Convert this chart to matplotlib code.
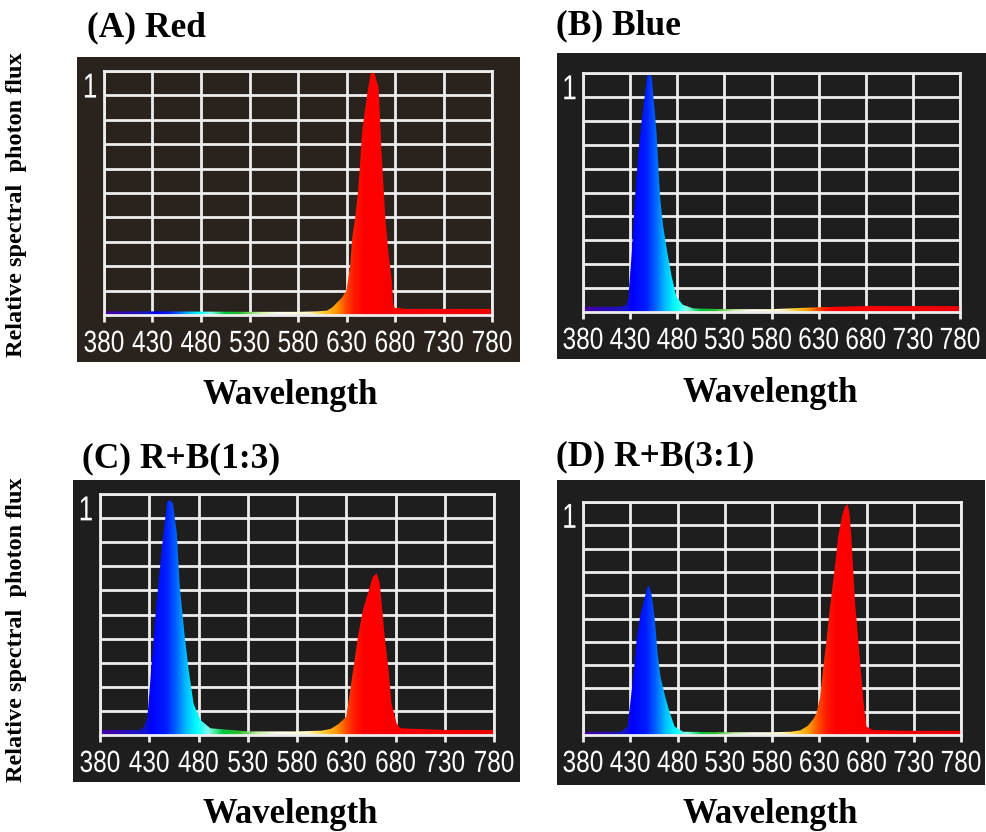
import numpy as np
import matplotlib
matplotlib.use("Agg")
import matplotlib.pyplot as plt
from matplotlib import patheffects
from matplotlib.patches import Rectangle, Polygon
from matplotlib.transforms import Affine2D

W, H = 986, 832

wavelength_ticks = [380, 430, 480, 530, 580, 630, 680, 730, 780]

# ---------------- spectra (relative photon flux) ---------------- #

red_wl = [380, 430, 480, 530, 580, 600, 610, 615, 620, 625, 630, 634,
          636, 639, 642, 644, 646, 649, 652, 655, 657, 659, 661, 663,
          664.5, 666, 668, 670, 673, 677, 678, 680, 682, 690, 730, 780]
red_flux = [0.015, 0.015, 0.014, 0.013, 0.013, 0.015, 0.018, 0.03, 0.05, 0.07, 0.10, 0.21,
            0.32, 0.40, 0.51, 0.62, 0.745, 0.84, 0.92, 0.99, 1.0, 0.99, 0.96, 0.936,
            0.813, 0.676, 0.54, 0.40, 0.266, 0.13, 0.048, 0.027, 0.03, 0.025, 0.025, 0.025]

blue_wl = [380, 420, 426, 428, 432, 435, 439, 442, 446, 448, 450, 453, 456, 458,
           460, 462, 465, 469, 474, 479, 486, 497, 530, 580, 630, 680, 730, 780]
blue_flux = [0.022, 0.022, 0.03, 0.057, 0.26, 0.47, 0.68, 0.79, 0.92, 0.985, 1.0, 0.98, 0.845, 0.75,
             0.61, 0.47, 0.36, 0.26, 0.15, 0.064, 0.03, 0.015, 0.012, 0.012, 0.02, 0.025, 0.025, 0.025]

rb13_wl = [380, 420, 424, 428, 432, 436, 439, 443, 446, 448, 451, 454, 458, 461,
           466, 470, 475, 482, 492, 530, 580, 605, 614, 622, 630, 632, 637, 642,
           647, 652, 657, 661, 664, 666, 669, 673, 676, 681, 685, 730, 780]
rb13_flux = [0.021, 0.021, 0.03, 0.07, 0.27, 0.48, 0.615, 0.78, 0.89, 0.968, 0.975, 0.961, 0.837, 0.615,
             0.41, 0.27, 0.13, 0.062, 0.028, 0.015, 0.015, 0.018, 0.025, 0.045, 0.076, 0.13, 0.27, 0.41,
             0.52, 0.588, 0.657, 0.671, 0.63, 0.546, 0.41, 0.27, 0.13, 0.049, 0.028, 0.021, 0.021]

rb31_wl = [380, 420, 427, 430, 434, 437, 441, 444, 448, 450, 453, 456, 459, 462,
           467, 472, 477, 486, 530, 580, 600, 610, 618, 624, 627, 631, 634, 638,
           641, 644, 647, 650, 654, 657, 660, 662, 664, 666, 668, 671, 674, 677,
           680, 687, 730, 780]
rb31_flux = [0.014, 0.014, 0.036, 0.136, 0.279, 0.42, 0.52, 0.565, 0.636, 0.64, 0.594, 0.494, 0.35, 0.25,
             0.164, 0.093, 0.036, 0.014, 0.012, 0.012, 0.014, 0.02, 0.04, 0.07, 0.093, 0.164, 0.279, 0.42,
             0.536, 0.636, 0.737, 0.851, 0.937, 0.98, 0.99, 0.951, 0.851, 0.708, 0.565, 0.42, 0.279, 0.136,
             0.036, 0.021, 0.018, 0.018]

# colour of the trace at each wavelength (spectrometer palette)
palette_wl = [380, 425, 432, 447, 457, 467, 478, 490, 505, 520, 540, 560, 590, 605, 620, 630, 638, 648, 780]
palette_rgb = [(70, 0, 160), (20, 20, 200), (0, 0, 255), (0, 30, 255), (0, 100, 255), (0, 190, 255),
               (0, 255, 255), (130, 255, 235), (0, 200, 60), (40, 190, 40), (200, 240, 160),
               (255, 255, 240), (255, 250, 200), (255, 210, 60), (255, 150, 0), (255, 70, 0),
               (255, 25, 0), (255, 0, 0), (235, 0, 0)]

# title, data, grid box (left, top, right, bottom px), panel box px, bg colour, title pos, xlabel pos
panels = [
    ("(A) Red", red_wl, red_flux, (104, 71, 492, 315), (77, 57, 520, 362), "#2a231d", (87, 36), (290, 404)),
    ("(B) Blue", blue_wl, blue_flux, (583, 73, 960, 312), (557, 53, 986, 359), "#1e1e1e", (556, 34), (770, 402)),
    ("(C) R+B(1:3)", rb13_wl, rb13_flux, (100, 494, 494, 735), (73, 480, 520, 782), "#1e1e1e", (82, 467), (290, 823)),
    ("(D) R+B(3:1)", rb31_wl, rb31_flux, (583, 502, 961, 735), (557, 480, 985, 785), "#1e1e1e", (556, 465), (770, 823)),
]

tick_font = ["Liberation Sans Narrow", "Liberation Sans"]


class Squeeze(patheffects.AbstractPathEffect):
    """Narrow glyphs horizontally about their own centre (condensed look)."""

    def __init__(self, sx):
        super().__init__()
        self.sx = sx

    def draw_path(self, renderer, gc, tpath, affine, rgbFace=None):
        box = tpath.get_extents(affine)
        cx = 0.5 * (box.x0 + box.x1)
        squeeze = Affine2D().translate(-cx, 0).scale(self.sx, 1).translate(cx, 0)
        renderer.draw_path(gc, tpath, affine + squeeze, rgbFace)


def px_rect(l, t, r, b):
    return [l / W, 1 - b / H, (r - l) / W, (b - t) / H]


fig = plt.figure(figsize=(W / 100, H / 100), dpi=100)
fig.patch.set_facecolor("white")

xs = np.linspace(380, 780, 801)
pal = np.array(palette_rgb) / 255.0
strip = np.stack([np.interp(xs, palette_wl, pal[:, k]) for k in range(3)], axis=-1)[None, :, :]

serif = "Liberation Serif"
grid_col = "#ededed"

for title, wl, flux, grid_box, box, bg, title_xy, wl_xy in panels:

    fig.add_artist(Rectangle((box[0] / W, 1 - box[3] / H), (box[2] - box[0]) / W, (box[3] - box[1]) / H,
                             transform=fig.transFigure, facecolor=bg, edgecolor="none", zorder=-1))

    ax = fig.add_axes(px_rect(*grid_box))
    ax.set_facecolor(bg)

    outline = Polygon(np.column_stack([np.r_[wl[0], wl, wl[-1]], np.r_[0, flux, 0]]),
                      closed=True, facecolor="none", edgecolor="none", transform=ax.transData)
    ax.add_patch(outline)
    im = ax.imshow(strip, extent=[380, 780, 0, 1], aspect="auto", origin="lower",
                   interpolation="bilinear", zorder=2)
    im.set_clip_path(outline)

    ax.set_xlim(380, 780)
    ax.set_ylim(0, 1)
    ax.set_xticks(wavelength_ticks)
    ax.set_xticklabels([str(v) for v in wavelength_ticks])
    ax.set_yticks(np.linspace(0, 1, 11))
    ax.set_axisbelow(True)
    ax.grid(True, color=grid_col, linewidth=2.0)
    ax.tick_params(axis="y", length=0, labelleft=False)
    ax.tick_params(axis="x", length=5, width=2, color=grid_col, direction="out",
                   pad=5, labelsize=22, labelcolor="white")
    for lbl in ax.get_xticklabels():
        lbl.set_fontfamily(tick_font)
        lbl.set_path_effects([Squeeze(0.8)])
    for sp in ax.spines.values():
        sp.set_color(grid_col)
        sp.set_linewidth(2.0)
        sp.set_zorder(3)

    ax.text(-0.036, 0.93, "1", transform=ax.transAxes, ha="center", va="center",
            color="white", fontsize=25, family=tick_font,
            path_effects=[Squeeze(0.75)])

    fig.text(title_xy[0] / W, 1 - title_xy[1] / H, title, ha="left", va="baseline",
             fontsize=25.5, fontweight="bold", family=serif)
    fig.text(wl_xy[0] / W, 1 - wl_xy[1] / H, "Wavelength", ha="center", va="baseline",
             fontsize=25, fontweight="bold", family=serif)

for yc in (205, 630):
    fig.text(17 / W, 1 - yc / H, "Relative spectral  photon flux", rotation=90,
             ha="center", va="center", fontsize=17.5, fontweight="bold", family=serif)

fig.savefig("out.png", dpi=100)
